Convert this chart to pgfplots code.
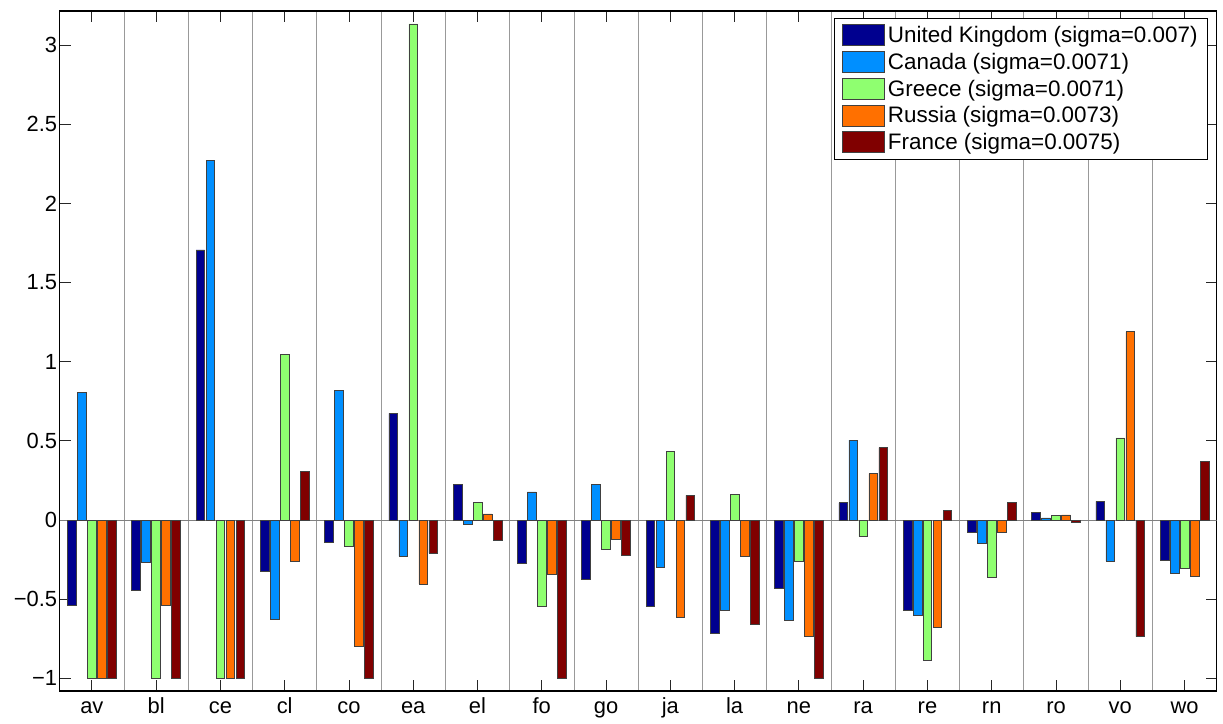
\documentclass[border=0pt]{standalone}
\usepackage{fontspec}
\setmainfont{Liberation Sans}
\usepackage{pgfplots}
\pgfplotsset{compat=1.18}
\definecolor{cUK}{RGB}{0,0,143}
\definecolor{cCA}{RGB}{0,143,255}
\definecolor{cGR}{RGB}{143,255,112}
\definecolor{cRU}{RGB}{255,112,0}
\definecolor{cFR}{RGB}{128,0,0}
\begin{document}
\begin{tikzpicture}
\begin{axis}[
  scale only axis, width=1157bp, height=680bp,
  xmin=0.5, xmax=18.5, ymin=-1.08, ymax=3.215,
  ybar, bar width=0.135,
  xtick={1,...,18},
  xticklabels={av,bl,ce,cl,co,ea,el,fo,go,ja,la,ne,ra,re,rn,ro,vo,wo},
  minor xtick={1.5,2.5,...,17.5},
  xminorgrids, minor grid style={black!40, line width=0.8bp},
  ytick={-1,-0.5,0,0.5,1,1.5,2,2.5,3},
  yticklabels={−1,−0.5,0,0.5,1,1.5,2,2.5,3},
  xtick pos=both, ytick pos=both,
  xticklabel pos=lower, yticklabel pos=left,
  tick align=inside, xtick align=inside, ytick align=inside,
  major tick length=11bp, minor tick length=0bp,
  major tick style={black!85, line width=0.9bp},
  axis line style={black, line width=1.2bp},
  ticklabel style={font=\fontsize{22}{26}\selectfont},
  yticklabel style={xshift=1bp},
  xticklabel style={text height=16bp, text depth=5bp, yshift=-3bp},
  every axis plot/.append style={draw=black!75, line width=0.6bp},
  legend style={at={(1,1)}, anchor=north east, xshift=-8.7bp, yshift=-7bp,
    draw=black, line width=0.8bp, font=\fontsize{22.5}{27}\selectfont,
    inner xsep=8bp, inner ysep=6bp, row sep=5bp, column sep=1bp},
  legend cell align=left,
  legend image code/.code={\draw[#1, line width=0.6bp] (0bp,-10.5bp) rectangle (42bp,10.5bp);},
]
\draw[black!50, line width=0.8bp] (axis cs:0.5,0) -- (axis cs:18.5,0);
\addplot[fill=cUK, bar shift=-0.311] coordinates {
(1,-0.541) (2,-0.446) (3,1.706) (4,-0.322) (5,-0.139) (6,0.674) (7,0.223) (8,-0.276) (9,-0.377)
(10,-0.547) (11,-0.714) (12,-0.429) (13,0.109) (14,-0.571) (15,-0.078) (16,0.048) (17,0.118) (18,-0.255)};
\addplot[fill=cCA, bar shift=-0.1555] coordinates {
(1,0.804) (2,-0.267) (3,2.272) (4,-0.625) (5,0.817) (6,-0.229) (7,-0.029) (8,0.177) (9,0.227)
(10,-0.297) (11,-0.568) (12,-0.636) (13,0.505) (14,-0.600) (15,-0.147) (16,0.013) (17,-0.259) (18,-0.339)};
\addplot[fill=cGR, bar shift=0] coordinates {
(1,-1) (2,-1) (3,-1) (4,1.048) (5,-0.166) (6,3.133) (7,0.112) (8,-0.543) (9,-0.185)
(10,0.434) (11,0.160) (12,-0.261) (13,-0.105) (14,-0.888) (15,-0.360) (16,0.029) (17,0.518) (18,-0.307)};
\addplot[fill=cRU, bar shift=0.1555] coordinates {
(1,-1) (2,-0.541) (3,-1) (4,-0.261) (5,-0.798) (6,-0.404) (7,0.038) (8,-0.343) (9,-0.120)
(10,-0.617) (11,-0.227) (12,-0.733) (13,0.293) (14,-0.680) (15,-0.078) (16,0.032) (17,1.189) (18,-0.358)};
\addplot[fill=cFR, bar shift=0.311] coordinates {
(1,-1) (2,-1) (3,-1) (4,0.307) (5,-1) (6,-0.211) (7,-0.128) (8,-1) (9,-0.221)
(10,0.156) (11,-0.659) (12,-1) (13,0.457) (14,0.063) (15,0.112) (16,-0.015) (17,-0.737) (18,0.371)};
\legend{United Kingdom (sigma=0.007),Canada (sigma=0.0071),Greece (sigma=0.0071),Russia (sigma=0.0073),France (sigma=0.0075)}
\end{axis}
\path ([xshift=-59.7bp,yshift=-33bp]current axis.south west) rectangle ([xshift=6.3bp,yshift=11bp]current axis.north east);
\end{tikzpicture}
\end{document}
